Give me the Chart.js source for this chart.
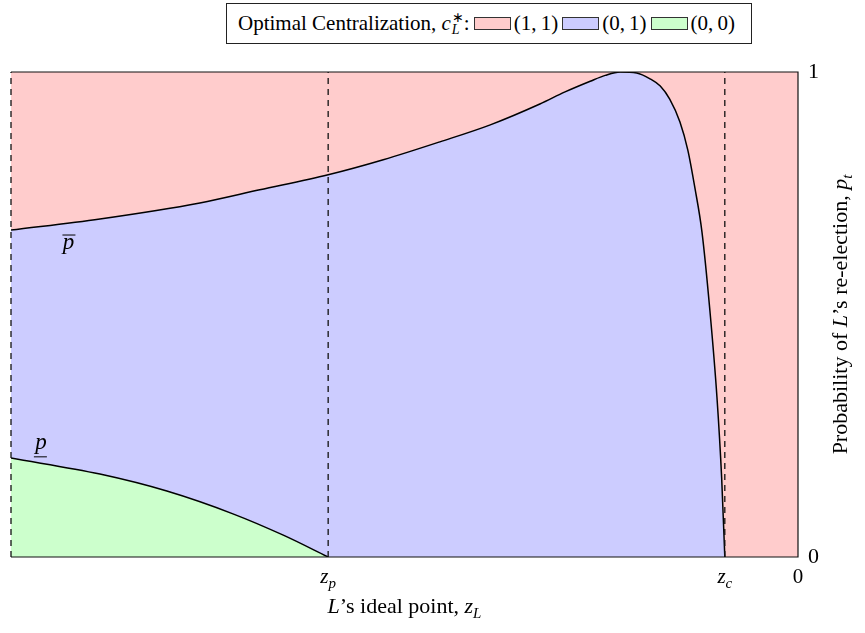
<!DOCTYPE html>
<html>
<head>
<meta charset="utf-8">
<script src="https://cdn.jsdelivr.net/npm/chart.js@4.4.1/dist/chart.umd.min.js"></script>
<style>
  html, body { margin: 0; padding: 0; background: #fff; }
  #wrap { position: relative; width: 865px; height: 633px; }
  #c { position: absolute; left: 0; top: 0; }
  #legend {
    position: absolute; left: 226px; top: 3px; width: 526px; height: 41px;
    box-sizing: border-box; border: 1px solid #222; background: #fff;
    font-family: 'Liberation Serif', serif; font-size: 21px; color: #000;
    display: flex; align-items: center; white-space: nowrap; padding-left: 11px;
  }
  .sw { display: inline-block; width: 37px; height: 13px; border: 1px solid #333; box-sizing: border-box; margin: 0 3px 0 4px; }
  .ss { display: inline-flex; flex-direction: column; font-size: 14px; line-height: 12px; vertical-align: middle; margin-left: 1px; }
</style>
</head>
<body>
<div id="wrap">
  <canvas id="c" width="865" height="633"></canvas>
  <div id="legend">
    <span>Optimal Centralization,&nbsp;<i>c</i></span><span class="ss"><span>∗</span><i>L</i></span><span>:</span>
    <span class="sw" style="background:#FFCCCC"></span><span>(1,&thinsp;1)</span>
    <span class="sw" style="background:#CCCCFF"></span><span>(0,&thinsp;1)</span>
    <span class="sw" style="background:#CCFFCC"></span><span>(0,&thinsp;0)</span>
  </div>
</div>
<script>
// ---- data ----
const zP = -0.597;   // z_p
const zC = -0.093;   // z_c
// upper threshold  p-bar
const upperX = [-1.000, -0.887, -0.760, -0.684, -0.597, -0.527, -0.455, -0.391, -0.328, -0.296, -0.264, -0.245, -0.226, -0.205, -0.188, -0.175, -0.163, -0.150, -0.140, -0.131, -0.122, -0.112, -0.103, -0.097, -0.093];
const upperP = [0.674, 0.697, 0.730, 0.757, 0.788, 0.819, 0.856, 0.891, 0.934, 0.959, 0.981, 0.993, 1.000, 0.998, 0.986, 0.971, 0.944, 0.897, 0.839, 0.761, 0.670, 0.509, 0.330, 0.163, 0.000];
// lower threshold  p-underline
const lowerX = [-1.000, -0.887, -0.802, -0.718, -0.654, -0.597];
const lowerP = [0.204, 0.171, 0.136, 0.089, 0.045, 0.000];
// vertical dashed markers
const vLines = [-1, zP, zC];
// tick labels
const xTickValues = [zP, zC, 0];
const xTickLabels = [[{t:'z', i:true}, {t:'p', i:true, sub:true}], [{t:'z', i:true}, {t:'c', i:true, sub:true}], [{t:'0'}]];
const yTickValues = [0, 1];

const FONT = "'Liberation Serif', serif";
const toPts = (xs, ys) => xs.map((x, k) => ({x: x, y: ys[k]}));

function runFont(r, size) {
  const s = (r.sub || r.sup) ? Math.round(size * 0.7) : size;
  return (r.i ? 'italic ' : '') + s + 'px ' + FONT;
}
function runsWidth(ctx, runs, size) {
  let w = 0;
  runs.forEach(r => { ctx.font = runFont(r, size); w += ctx.measureText(r.t).width; });
  return w;
}
function drawRuns(ctx, runs, cx, y, size) {
  let x = cx - runsWidth(ctx, runs, size) / 2;
  ctx.textAlign = 'left';
  ctx.textBaseline = 'alphabetic';
  runs.forEach(r => {
    ctx.font = runFont(r, size);
    const dy = r.sub ? size * 0.22 : (r.sup ? -size * 0.38 : 0);
    ctx.fillText(r.t, x, y + dy);
    x += ctx.measureText(r.t).width;
  });
}

const textPlugin = {
  id: 'texts',
  afterDraw(chart) {
    const ctx = chart.ctx, a = chart.chartArea;
    const xs = chart.scales.x, ys = chart.scales.y;
    ctx.save();
    ctx.fillStyle = '#000';
    // frame: top, right, bottom solid
    ctx.strokeStyle = '#111';
    ctx.lineWidth = 1.2;
    ctx.beginPath();
    ctx.moveTo(a.left, a.top); ctx.lineTo(a.right, a.top); ctx.lineTo(a.right, a.bottom); ctx.lineTo(a.left, a.bottom);
    ctx.stroke();
    // x tick labels
    xTickValues.forEach((v, k) => {
      drawRuns(ctx, xTickLabels[k], xs.getPixelForValue(v), a.bottom + 26, 21);
    });
    // x title
    drawRuns(ctx, [{t:'L', i:true}, {t:'’s ideal point, '}, {t:'z', i:true}, {t:'L', i:true, sub:true}], (a.left + a.right) / 2, a.bottom + 56, 22);
    // y title (rotated, right side)
    ctx.save();
    ctx.translate(847, (a.top + a.bottom) / 2);
    ctx.rotate(-Math.PI / 2);
    drawRuns(ctx, [{t:'Probability of '}, {t:'L', i:true}, {t:'’s re-election, '}, {t:'p', i:true}, {t:'t', i:true, sub:true}], 0, 0, 22);
    ctx.restore();
    // curve labels
    const bx = xs.getPixelForValue(-0.927), by = ys.getPixelForValue(0.635);
    drawRuns(ctx, [{t:'p', i:true}], bx, by, 23);
    ctx.lineWidth = 1; ctx.strokeStyle = '#000';
    ctx.beginPath(); ctx.moveTo(bx - 6, by - 14); ctx.lineTo(bx + 7, by - 14); ctx.stroke();
    const ux = xs.getPixelForValue(-0.962), uy = ys.getPixelForValue(0.222);
    drawRuns(ctx, [{t:'p', i:true}], ux, uy, 23);
    ctx.beginPath(); ctx.moveTo(ux - 7, uy + 7.5); ctx.lineTo(ux + 6, uy + 7.5); ctx.stroke();
    ctx.restore();
  }
};

const datasets = [
  { label: '(1, 1)', data: [{x: -1, y: 1}, {x: 0, y: 1}], fill: 'origin', backgroundColor: '#FFCCCC',
    borderWidth: 0, pointRadius: 0, order: 10 },
  { label: '(0, 1)', data: toPts(upperX, upperP), fill: 'origin', backgroundColor: '#CCCCFF',
    borderColor: '#000', borderWidth: 1.5, pointRadius: 0, cubicInterpolationMode: 'monotone', order: 9 },
  { label: '(0, 0)', data: toPts(lowerX, lowerP), fill: 'origin', backgroundColor: '#CCFFCC',
    borderColor: '#000', borderWidth: 1.5, pointRadius: 0, cubicInterpolationMode: 'monotone', order: 8 }
];
vLines.forEach((v, k) => datasets.push({
  label: 'marker' + k, data: [{x: v, y: 0}, {x: v, y: 1}], fill: false, borderColor: '#111',
  borderWidth: 1.3, borderDash: [6, 5], pointRadius: 0, order: 1, clip: 4
}));

new Chart(document.getElementById('c'), {
  type: 'line',
  data: { datasets },
  options: {
    responsive: false,
    animation: false,
    devicePixelRatio: 1,
    layout: { padding: { left: 11, top: 72, right: 0, bottom: 0 } },
    plugins: { legend: { display: false }, tooltip: { enabled: false } },
    scales: {
      x: {
        type: 'linear', min: -1, max: 0,
        grid: { display: false }, border: { display: false },
        ticks: { display: false },
        afterFit(s) { s.height = 76; }
      },
      y: {
        type: 'linear', position: 'right', min: 0, max: 1,
        grid: { display: false, drawTicks: false }, border: { display: false },
        afterBuildTicks(s) { s.ticks = yTickValues.map(v => ({value: v})); },
        ticks: { color: '#000', padding: 10, font: { family: FONT, size: 22 }, callback: v => String(v) },
        afterFit(s) { s.width = 67; }
      }
    }
  },
  plugins: [textPlugin]
});
</script>
</body>
</html>
